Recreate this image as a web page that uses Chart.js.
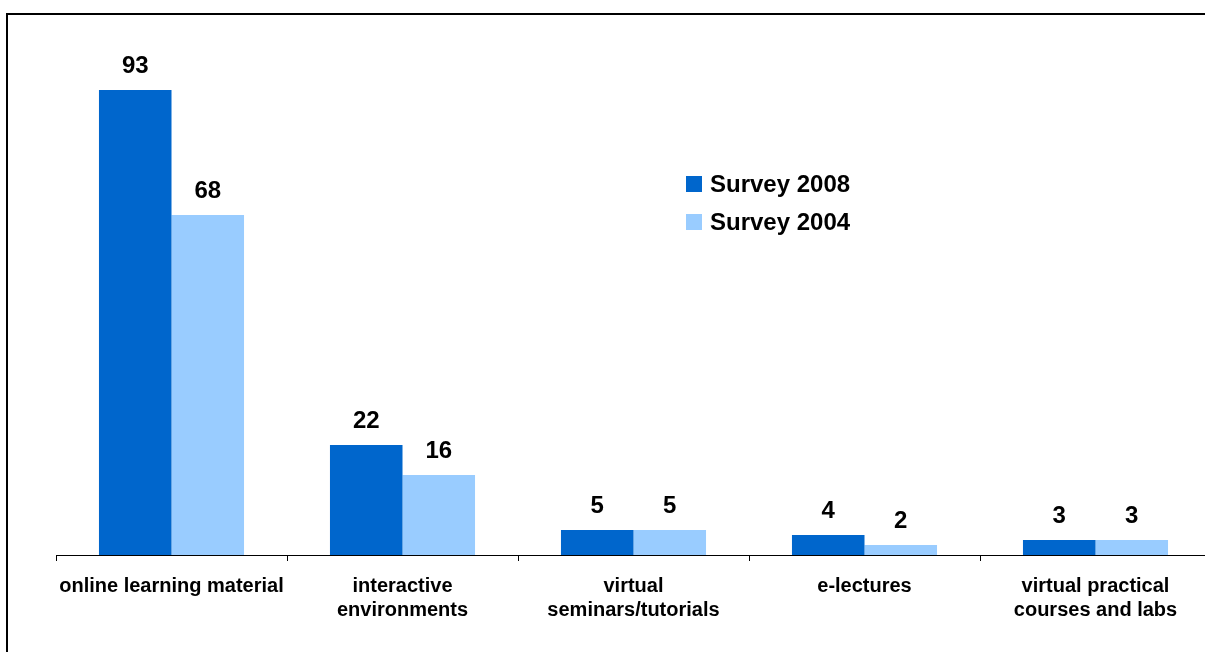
<!DOCTYPE html>
<html>
<head>
<meta charset="utf-8">
<script src="https://cdn.jsdelivr.net/npm/chart.js@4/dist/chart.umd.min.js"></script>
<style>
  html, body { margin: 0; padding: 0; background: #fff; overflow: hidden; }
  #marco { position: absolute; left: 6px; top: 13px; width: 1300px; height: 700px; border-left: 2px solid #000; border-top: 2px solid #000; }
  #lienzo { position: absolute; left: 0; top: 0; }
</style>
</head>
<body>
<div id="marco"></div>
<canvas id="lienzo" width="1230" height="652"></canvas>
<script>
// Categorías y valores de cada encuesta
const categorias = [
    'online learning material',
    ['interactive', 'environments'],
    ['virtual', 'seminars/tutorials'],
    'e-lectures',
    ['virtual practical', 'courses and labs']
];
const encuesta2008 = [93, 22, 5, 4, 3];
const encuesta2004 = [68, 16, 5, 2, 3];

const FUENTE = 'Arial, "Liberation Sans", sans-serif';

// Números encima de cada barra
const etiquetasValores = {
    id: 'etiquetasValores',
    afterDatasetsDraw(chart) {
        const ctx = chart.ctx;
        ctx.save();
        ctx.font = 'bold 24px ' + FUENTE;
        ctx.fillStyle = '#000';
        ctx.textAlign = 'center';
        ctx.textBaseline = 'alphabetic';
        chart.data.datasets.forEach((ds, i) => {
            chart.getDatasetMeta(i).data.forEach((barra, j) => {
                ctx.fillText(String(ds.data[j]), barra.x, barra.y - 17);
            });
        });
        ctx.restore();
    }
};

// Leyenda dentro del área del gráfico
const leyendaInterna = {
    id: 'leyendaInterna',
    afterDraw(chart) {
        const ctx = chart.ctx;
        ctx.save();
        ctx.font = 'bold 24px ' + FUENTE;
        ctx.textBaseline = 'middle';
        chart.data.datasets.forEach((ds, i) => {
            const y = 184 + i * 38;
            ctx.fillStyle = ds.backgroundColor;
            ctx.fillRect(686, y - 8, 16, 16);
            ctx.fillStyle = '#000';
            ctx.fillText(ds.label, 710, y + 1);
        });
        ctx.restore();
    }
};

new Chart(document.getElementById('lienzo').getContext('2d'), {
    type: 'bar',
    data: {
        labels: categorias,
        datasets: [
            { label: 'Survey 2008', data: encuesta2008, backgroundColor: '#0066CC' },
            { label: 'Survey 2004', data: encuesta2004, backgroundColor: '#99CCFF' }
        ]
    },
    options: {
        responsive: false,
        animation: false,
        layout: { padding: { left: 56, right: 19, top: 55, bottom: 0 } },
        datasets: { bar: { categoryPercentage: 0.628, barPercentage: 1 } },
        plugins: { legend: { display: false }, tooltip: { enabled: false } },
        scales: {
            x: {
                afterFit: (escala) => { escala.height = 97; },
                grid: { drawOnChartArea: false, color: '#000', tickLength: 6, offset: true },
                border: { display: true, color: '#000', width: 1 },
                ticks: {
                    color: '#000',
                    font: { family: FUENTE, size: 20, weight: 'bold', lineHeight: 1.2 },
                    padding: 13,
                    maxRotation: 0,
                    autoSkip: false
                }
            },
            y: { display: false, min: 0, max: 100 }
        }
    },
    plugins: [etiquetasValores, leyendaInterna]
});
</script>
</body>
</html>
